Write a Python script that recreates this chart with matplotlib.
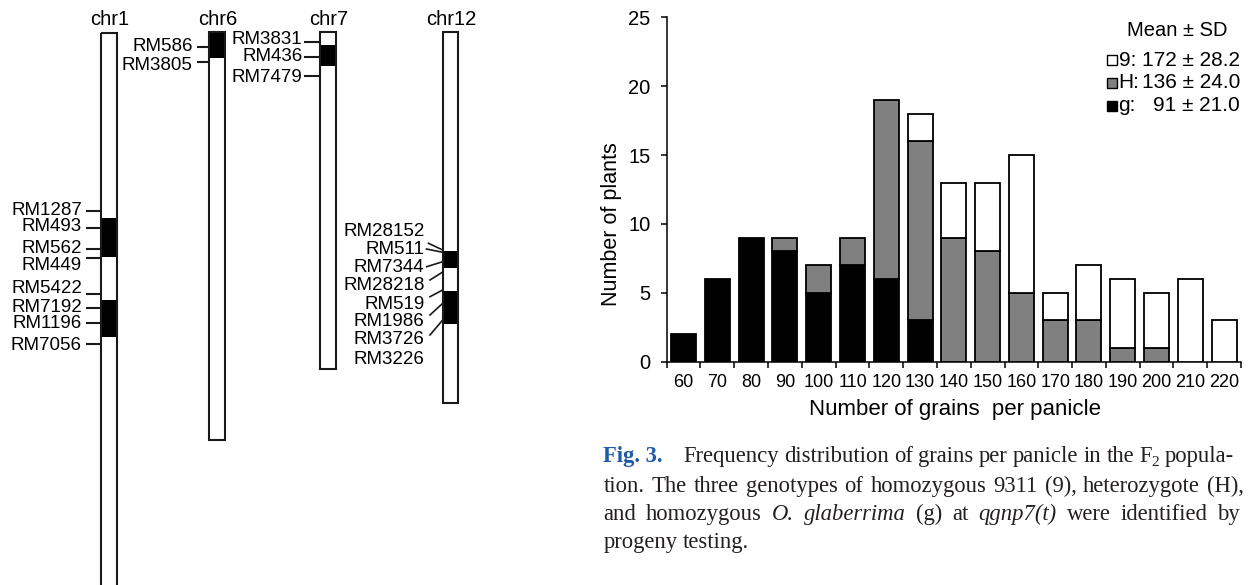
import matplotlib
matplotlib.use('Agg')
import matplotlib.pyplot as plt
from matplotlib.patches import Rectangle
import numpy as np

plt.rcParams['font.family'] = ['Liberation Sans', 'DejaVu Sans']
SERIF = ['Liberation Serif', 'DejaVu Serif']

# ---------------- histogram data ----------------
grain_bins = [60, 70, 80, 90, 100, 110, 120, 130, 140, 150, 160, 170, 180, 190, 200, 210, 220]
g_counts = [2, 6, 9, 8, 5, 7, 6, 3, 0, 0, 0, 0, 0, 0, 0, 0, 0]
h_counts = [0, 0, 0, 1, 2, 2, 13, 13, 9, 8, 5, 3, 3, 1, 1, 0, 0]
n9_counts = [0, 0, 0, 0, 0, 0, 0, 2, 4, 5, 10, 2, 4, 5, 4, 6, 3]
y_ticks = [0, 5, 10, 15, 20, 25]
legend_title = 'Mean ± SD'
legend_keys = ['9:', 'H:', 'g:']
legend_stats = ['172 ± 28.2', '136 ± 24.0', '91 ± 21.0']
x_label = 'Number of grains  per panicle'
y_label = 'Number of plants'

# ---------------- chromosome data (map positions) ----------------
chrom_names = ['chr1', 'chr6', 'chr7', 'chr12']
chrom_start = [32.5, 32.3, 32.3, 32.3]
chrom_end = [600.0, 440.0, 369.3, 403.0]
chrom_black = [[(218.3, 256.7), (300.0, 336.7)],
               [(32.3, 58.3)],
               [(45.0, 66.0)],
               [(250.7, 267.7), (291.0, 324.0)]]
chrom_markers = [
    ['RM1287', 'RM493', 'RM562', 'RM449', 'RM5422', 'RM7192', 'RM1196', 'RM7056'],
    ['RM586', 'RM3805'],
    ['RM3831', 'RM436', 'RM7479'],
    ['RM28152', 'RM511', 'RM7344', 'RM28218', 'RM519', 'RM1986', 'RM3726', 'RM3226'],
]
chrom_marker_pos = [
    [211.0, 228.3, 249.3, 257.7, 294.3, 308.3, 322.7, 344.3],
    [46.7, 61.7],
    [41.7, 56.7, 76.0],
    [250.0, 252.3, 261.7, 272.0, 290.0, 303.3, 320.0, None],
]
chrom_label_pos = [
    [210.7, 226.7, 248.3, 265.0, 288.3, 307.7, 324.0, 345.7],
    [46.7, 65.0],
    [40.0, 56.7, 77.3],
    [231.7, 250.0, 267.7, 286.0, 304.3, 322.0, 340.0, 359.0],
]

# ---------------- caption ----------------
caption_head = 'Fig. 3.'
caption_lines = [
    'Frequency distribution of grains per panicle in the F_2 popula-',
    'tion. The three genotypes of homozygous 9311 (9), heterozygote (H),',
    'and homozygous *O.* *glaberrima* (g) at *qgnp7(t)* were identified by',
    'progeny testing.',
]

# ---------------- layout ----------------
W, H = 1251, 585
fig = plt.figure(figsize=(W / 100, H / 100), dpi=100)
ax0 = fig.add_axes([0, 0, 1, 1])
ax0.set_xlim(0, W)
ax0.set_ylim(H, 0)
ax0.axis('off')

chrom_x = [101.0, 209.0, 320.0, 442.7]
chrom_w = 15.5
tick_len = [15.0, 12.5, 16.0, 0]
label_gap = [4.0, 4.0, 1.5, 0]
chr12_conn_start = [(428.5, 243.3), (426.5, 249.0), (426.7, 266.7), (430.0, 280.0),
                    (430.0, 296.7), (430.0, 315.0), (430.0, 335.0), None]
LFS = 13.5

for i, name in enumerate(chrom_names):
    x0 = chrom_x[i]
    for (a, b) in chrom_black[i]:
        ax0.add_patch(Rectangle((x0, a), chrom_w, b - a, facecolor='black',
                                edgecolor='none', zorder=2))
    ax0.add_patch(Rectangle((x0, chrom_start[i]), chrom_w, chrom_end[i] - chrom_start[i],
                            facecolor='none', edgecolor='#1a1a1a', lw=1.5, zorder=3))
    ax0.text(x0 + chrom_w / 2 + 1, 19.5, name, ha='center', va='center', fontsize=14.5)
    for j, m in enumerate(chrom_markers[i]):
        ly = chrom_label_pos[i][j]
        my = chrom_marker_pos[i][j]
        if i < 3:
            ax0.plot([x0 - tick_len[i], x0], [my, my], color='#1a1a1a', lw=1.5,
                     solid_capstyle='butt', zorder=3)
            ax0.text(x0 - tick_len[i] - label_gap[i], ly, m, ha='right', va='center',
                     fontsize=LFS)
        else:
            ax0.text(424.5, ly, m, ha='right', va='center', fontsize=LFS)
            cs = chr12_conn_start[j]
            if cs is not None and my is not None:
                ax0.plot([cs[0], x0], [cs[1], my], color='#1a1a1a', lw=1.2, zorder=3)

# ---------------- histogram ----------------
y0_px, y25_px = 361.7, 17.3
xl_px, xr_px = 666.7, 1241.0
ax = fig.add_axes([xl_px / W, (H - y0_px) / H, (xr_px - xl_px) / W, (y0_px - y25_px) / H])
ax.patch.set_alpha(0)
idx = np.arange(len(grain_bins))
g = np.array(g_counts)
h = np.array(h_counts)
n9 = np.array(n9_counts)
bw = 0.74
kw = dict(width=bw, edgecolor='black', linewidth=1.3, zorder=3)
ax.bar(idx, g, color='black', **kw)
ax.bar(idx, h, bottom=g, color='#808080', **kw)
ax.bar(idx, n9, bottom=g + h, color='white', **kw)
for c in ax.containers:
    for r in c.patches:
        if r.get_height() == 0:
            r.set_visible(False)

ax.set_xlim(-0.5, len(grain_bins) - 0.5)
ax.set_ylim(0, 25)
ax.set_xticks(np.arange(-0.5, len(grain_bins), 1.0))
ax.set_xticklabels([])
ax.set_xticks(idx, minor=True)
ax.set_xticklabels([str(b) for b in grain_bins], minor=True)
ax.tick_params(axis='x', which='major', direction='out', length=4, width=1.1)
ax.tick_params(axis='x', which='minor', length=0, pad=9, labelsize=13)
ax.set_yticks(y_ticks)
ax.tick_params(axis='y', direction='out', length=4.3, width=1.1, pad=7.5, labelsize=14.5)
for s in ['top', 'right']:
    ax.spines[s].set_visible(False)
for s in ['left', 'bottom']:
    ax.spines[s].set_linewidth(1.1)

ax0.text(612, 224, y_label, rotation=90, ha='center', va='center', fontsize=15.5)
ax0.text(955, 410, x_label, ha='center', va='center', fontsize=16)

# legend
ax0.text(1177, 30, legend_title, ha='center', va='center', fontsize=14.5)
leg_y = [60.0, 83.0, 105.5]
leg_col = ['white', '#808080', 'black']
for k in range(3):
    ax0.add_patch(Rectangle((1107, leg_y[k] - 5), 10, 10, facecolor=leg_col[k],
                            edgecolor='black', lw=1.0))
    ax0.text(1118.5, leg_y[k], legend_keys[k], ha='left', va='center', fontsize=15)
    ax0.text(1240, leg_y[k], legend_stats[k], ha='right', va='center', fontsize=15)

# ---------------- caption (justified) ----------------
fig.canvas.draw()
renderer = fig.canvas.get_renderer()
CFS = 16.3
cap_left = 603.3
cap_rights = [1234.0, 1244.0, 1240.0, None]
baselines = [462.0, 491.7, 520.0, 548.3]
head_extra = 15.0


def make_word(word, style=None):
    pieces = []
    if style == 'head':
        pieces.append(dict(t=word, fs=CFS, st='normal', wt='bold', c='#1f5aa6', dy=0))
    elif word.startswith('*') and word.endswith('*'):
        pieces.append(dict(t=word[1:-1], fs=CFS, st='italic', wt='normal', c='#231f20', dy=0))
    elif '_' in word:
        a, b = word.split('_')
        pieces.append(dict(t=a, fs=CFS, st='normal', wt='normal', c='#231f20', dy=0))
        pieces.append(dict(t=b, fs=CFS * 0.68, st='normal', wt='normal', c='#231f20', dy=4.5))
    else:
        pieces.append(dict(t=word, fs=CFS, st='normal', wt='normal', c='#231f20', dy=0))
    objs = []
    for p in pieces:
        t = ax0.text(0, 0, p['t'], fontsize=p['fs'], fontstyle=p['st'], fontweight=p['wt'],
                     color=p['c'], family=SERIF, ha='left', va='baseline')
        objs.append((t, p['dy'], t.get_window_extent(renderer).width))
    return objs


for li, line in enumerate(caption_lines):
    words = []
    if li == 0:
        words.append(make_word(caption_head, 'head'))
    for w in line.split(' '):
        words.append(make_word(w))
    widths = [sum(o[2] for o in wd) for wd in words]
    extra = head_extra if li == 0 else 0.0
    if cap_rights[li] is not None:
        gap = (cap_rights[li] - cap_left - sum(widths) - extra) / (len(words) - 1)
    else:
        gap = CFS * 1.389 * 0.25
    x = cap_left
    for k, wd in enumerate(words):
        xx = x
        for (t, dy, wdt) in wd:
            t.set_position((xx, baselines[li] + dy))
            xx += wdt
        x += widths[k] + gap
        if k == 0 and li == 0:
            x += extra

fig.savefig('out.png', dpi=100)
